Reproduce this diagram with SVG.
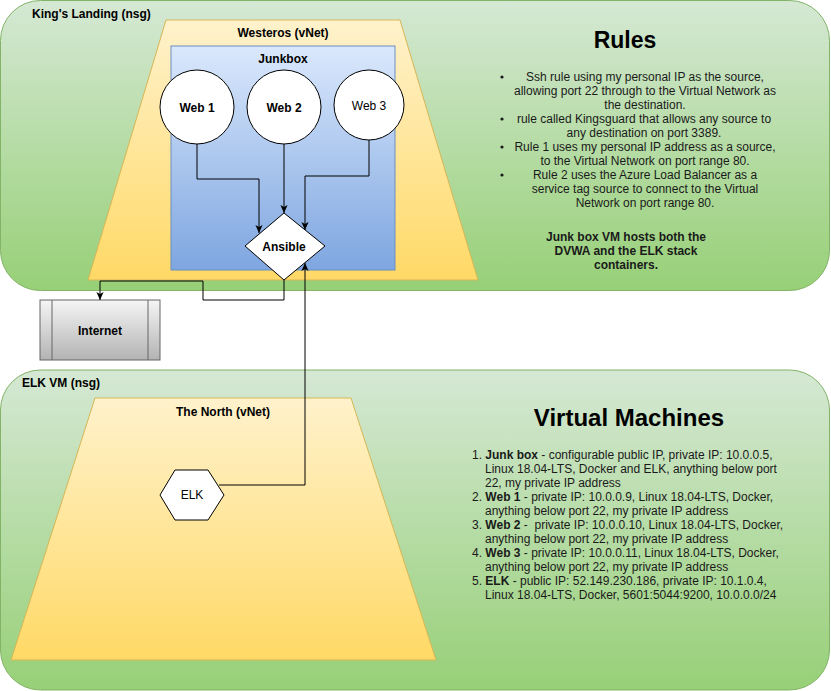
<svg xmlns="http://www.w3.org/2000/svg" width="831" height="691" viewBox="0 0 831 691">
<defs>
<linearGradient id="gGreen" x1="0" y1="0" x2="0" y2="1"><stop offset="0" stop-color="#d5e8d4"/><stop offset="1" stop-color="#97d077"/></linearGradient>
<linearGradient id="gYellow" x1="0" y1="0" x2="0" y2="1"><stop offset="0" stop-color="#fff2cc"/><stop offset="1" stop-color="#ffd966"/></linearGradient>
<linearGradient id="gBlue" x1="0" y1="0" x2="0" y2="1"><stop offset="0" stop-color="#dae8fc"/><stop offset="1" stop-color="#7ea6e0"/></linearGradient>
<linearGradient id="gGray" x1="0" y1="0" x2="0" y2="1"><stop offset="0" stop-color="#f5f5f5"/><stop offset="1" stop-color="#b3b3b3"/></linearGradient>
<marker id="arr" viewBox="0 0 10 10" refX="10" refY="5" markerWidth="8" markerHeight="8" orient="auto" markerUnits="userSpaceOnUse"><path d="M10,5 L0,0.5 L2.5,5 L0,9.5 Z" fill="#000"/></marker>
</defs>
<style>
text{font-family:"Liberation Sans",Arial,sans-serif;font-size:12px;fill:#000}
.b{font-weight:bold}
.c{text-anchor:middle}
.nsg{fill:url(#gGreen);stroke:#82b366;stroke-width:1}
.vnet{fill:url(#gYellow);stroke:#d6b656;stroke-width:1}
.node{fill:#fff;stroke:#000;stroke-width:1}
.edge{fill:none;stroke:#000;stroke-width:1}
.rt{fill:#1a1a1a}
</style>

<g id="kings-landing">
<rect class="nsg" x="0.5" y="0.5" width="829" height="290" rx="40" ry="40"/>
<text class="b" x="32" y="18">King's Landing (nsg)</text>
</g>
<g id="westeros">
<polygon class="vnet" points="166,20 400,20 478,280 88,280"/>
<text class="b c" x="283" y="37">Westeros (vNet)</text>
</g>
<g id="junkbox">
<rect x="171" y="46" width="224" height="224" fill="url(#gBlue)" stroke="#6c8ebf"/>
<text class="b c" x="283" y="63">Junkbox</text>
</g>
<g id="web1">
<circle class="node" cx="197" cy="107" r="37"/>
<text class="b c" x="197" y="112">Web 1</text>
</g>
<g id="web2">
<circle class="node" cx="284" cy="107" r="37"/>
<text class="b c" x="284" y="112">Web 2</text>
</g>
<g id="web3">
<circle class="node" cx="369" cy="105" r="35"/>
<text class="c" x="369" y="110">Web 3</text>
</g>
<g id="ansible">
<polygon class="node" points="284,213 325,246 284,280 245,246"/>
<text class="b c" x="284" y="251">Ansible</text>
</g>
<g id="rules">
<text class="b c" x="625" y="48" style="font-size:23px">Rules</text>
<g class="rt">
<circle cx="502" cy="77" r="1.6" fill="#1a1a1a"/>
<circle cx="502" cy="119" r="1.6" fill="#1a1a1a"/>
<circle cx="502" cy="147" r="1.6" fill="#1a1a1a"/>
<circle cx="502" cy="175" r="1.6" fill="#1a1a1a"/>
</g>
<text class="c rt" x="645" y="81">Ssh rule using my personal IP as the source,</text>
<text class="c rt" x="645" y="95">allowing port 22 through to the Virtual Network as</text>
<text class="c rt" x="645" y="109">the destination.</text>
<text class="c rt" x="644" y="123">rule called Kingsguard that allows any source to</text>
<text class="c rt" x="644" y="137">any destination on port 3389.</text>
<text class="c rt" x="645" y="151">Rule 1 uses my personal IP address as a source,</text>
<text class="c rt" x="645" y="165">to the Virtual Network on port range 80.</text>
<text class="c rt" x="645" y="179">Rule 2 uses the Azure Load Balancer as a</text>
<text class="c rt" x="645" y="193">service tag source to connect to the Virtual</text>
<text class="c rt" x="645" y="207">Network on port range 80.</text>
<text class="b c rt" x="626" y="241">Junk box VM hosts both the</text>
<text class="b c rt" x="626" y="255">DVWA and the ELK stack</text>
<text class="b c rt" x="626" y="269">containers.</text>
</g>
<g id="internet">
<rect x="40" y="300" width="120" height="60" fill="url(#gGray)" stroke="#666"/>
<line x1="52" y1="300" x2="52" y2="360" stroke="#666"/>
<line x1="148" y1="300" x2="148" y2="360" stroke="#666"/>
<text class="b c" x="100" y="335" fill="#333">Internet</text>
</g>
<g id="elk-vm">
<rect class="nsg" x="0.5" y="370" width="829" height="320" rx="40" ry="40"/>
<text class="b" x="22" y="387">ELK VM (nsg)</text>
</g>
<g id="the-north">
<polygon class="vnet" points="95,398 351,398 436,660 11,660"/>
<text class="b c" x="223" y="416">The North (vNet)</text>
</g>
<g id="elk">
<polygon class="node" points="160,495 175,470 208,470 224,495 208,520 175,520"/>
<text class="c" x="192" y="499">ELK</text>
</g>
<g id="virtual-machines">
<text class="b c" x="629" y="426" style="font-size:24px">Virtual Machines</text>
<text class="rt" x="472" y="459">1. <tspan class="b">Junk box</tspan> - configurable public IP, private IP: 10.0.0.5,</text>
<text class="rt" x="485" y="473">Linux 18.04-LTS, Docker and ELK, anything below port</text>
<text class="rt" x="485" y="487">22, my private IP address</text>
<text class="rt" x="472" y="501">2. <tspan class="b">Web 1</tspan> - private IP: 10.0.0.9, Linux 18.04-LTS, Docker,</text>
<text class="rt" x="485" y="515">anything below port 22, my private IP address</text>
<text class="rt" x="472" y="529" xml:space="preserve">3. <tspan class="b">Web 2</tspan> -  private IP: 10.0.0.10, Linux 18.04-LTS, Docker,</text>
<text class="rt" x="485" y="543">anything below port 22, my private IP address</text>
<text class="rt" x="472" y="557">4. <tspan class="b">Web 3</tspan> - private IP: 10.0.0.11, Linux 18.04-LTS, Docker,</text>
<text class="rt" x="485" y="571">anything below port 22, my private IP address</text>
<text class="rt" x="472" y="585">5. <tspan class="b">ELK</tspan> - public IP: 52.149.230.186, private IP: 10.1.0.4,</text>
<text class="rt" x="485" y="599">Linux 18.04-LTS, Docker, 5601:5044:9200, 10.0.0.0/24</text>
</g>

<g id="connectors">
<polyline class="edge" points="197,144 197,179 259,179 259,233" marker-end="url(#arr)"/>
<polyline class="edge" points="284,144 284,213" marker-end="url(#arr)"/>
<polyline class="edge" points="369,140 369,176 305,176 305,230" marker-end="url(#arr)"/>
<polyline class="edge" points="284,280 284,300 203,300 203,281 100,281 100,300" marker-end="url(#arr)"/>
<polyline class="edge" points="219,485 305,485 305,263" marker-end="url(#arr)"/>
</g>
</svg>
